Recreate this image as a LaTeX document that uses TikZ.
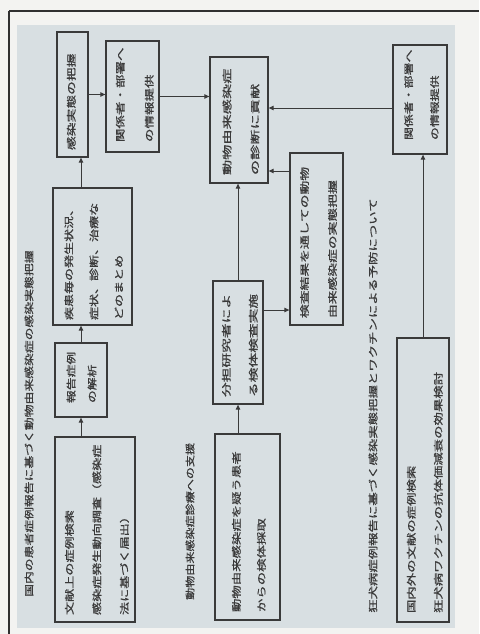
\documentclass[tikz,border=0pt]{standalone}
\usepackage{fontspec}
\usepackage{graphicx}
\newfontfamily\jp[FakeBold=0.8]{Noto Sans CJK JP}
\usetikzlibrary{arrows.meta,calc}
\definecolor{paper}{HTML}{F3F3F1}
\definecolor{panel}{HTML}{D8DFE2}
\definecolor{ink}{HTML}{3A3A3A}
\definecolor{framec}{HTML}{303030}
% #1 length of text slot, #2 stretch, #3 line pitch, #4 lines
\newcommand{\vt}[4]{\rotatebox{90}{\makebox[#1][l]{\jp\fontsize{9.5}{#3}\selectfont\scalebox{#2}[1]{\begin{tabular}{@{}l@{}}#4\end{tabular}}}}}
\newcommand{\vl}[2]{\rotatebox{90}{\jp\fontsize{9.5}{11}\selectfont\scalebox{#1}[1]{#2}}}
\begin{document}
\begin{tikzpicture}[x=1pt,y=-1pt,
  box/.style={draw=ink, line width=1.3pt, fill=panel, inner sep=0pt},
  txt/.style={inner sep=0pt, text=ink},
  ttl/.style={inner sep=0pt, text=ink, anchor=south},
  arr/.style={draw=ink, line width=1pt, -{Triangle[length=5pt,width=4.5pt]}}]
\useasboundingbox (0,0) rectangle (479,634);
\fill[paper] (0,0) rectangle (479,634);
\fill[panel] (17,25) rectangle (455,628);
\draw[framec, line width=1.6pt] (9,11) -- (479,11);
\draw[framec, line width=1.6pt] (9,11) -- (9,634);

% boxes
\node[box, minimum width=80pt, minimum height=185pt] (A) at (95,529.5) {};
\node[txt] (At) at (A) {\vt{171pt}{1.38}{27.5pt}{文献上の症例検索\\感染症発生動向調査（感染症\\法に基づく届出）}};

\node[box, minimum width=52pt, minimum height=74pt] (B) at (81,380) {};
\node[txt] (Bt) at (B) {\vt{46pt}{1.35}{21pt}{報告症例\\の解析}};

\node[box, minimum width=79pt, minimum height=137pt] (C) at (92.5,256.5) {};
\node[txt] (Ct) at (C) {\vt{127pt}{1.37}{25pt}{疾患毎の発生状況、\\症状、診断、治療な\\どのまとめ}};

\node[box, minimum width=31pt, minimum height=125pt] (D) at (72.5,94.5) {};
\node[txt] (Dt) at (D) {\vt{111pt}{1.45}{12pt}{感染実態の把握}};

\node[box, minimum width=53pt, minimum height=111pt] (E) at (132.5,96.5) {};
\node[txt] (Et) at (E) {\vt{91pt}{1.42}{29pt}{関係者・部署へ\\の情報提供}};

\node[box, minimum width=58pt, minimum height=126pt] (F) at (239,120) {};
\node[txt] (Ft) at (F) {\vt{110pt}{1.6}{28pt}{動物由来感染症\\の診断に貢献}};

\node[box, minimum width=50pt, minimum height=123pt] (G) at (238,342.5) {};
\node[txt] (Gt) at (G) {\vt{109pt}{1.55}{27pt}{分担研究者によ\\る検体検査実施}};

\node[box, minimum width=65pt, minimum height=186pt] (H) at (247.5,527) {};
\node[txt] (Ht) at (H) {\vt{170pt}{1.41}{25pt}{動物由来感染症を疑う患者\\からの検体採取}};

\node[box, minimum width=53pt, minimum height=172pt] (I) at (316.5,239) {};
\node[txt] (It) at (I) {\vt{158pt}{1.45}{28pt}{検査結果を通しての動物\\由来感染症の実態把握}};

\node[box, minimum width=54pt, minimum height=109pt] (J) at (420,99.5) {};
\node[txt] (Jt) at (J) {\vt{81pt}{1.36}{26pt}{関係者・部署へ\\の情報提供}};

\node[box, minimum width=52pt, minimum height=284pt] (K) at (423,480) {};
\node[txt] (Kt) at (K) {\vt{266pt}{1.41}{27pt}{国内外の文献の症例検索\\狂犬病ワクチンの抗体価減衰の効果検討}};

% section titles
\node[ttl] (T1) at (29,597) {\vl{1.35}{国内の患者症例報告に基づく動物由来感染症の感染実態把握}};
\node[ttl] (T2) at (190,600) {\vl{1.27}{動物由来感染症診療への支援}};
\node[ttl] (T3) at (373,613) {\vl{1.41}{狂犬病症例報告に基づく感染実態把握とワクチンによる予防について}};

% connectors
\coordinate (gi) at (0,310);
\coordinate (fi) at (0,171);
\coordinate (fj) at (0,108);
\draw[arr] (A.north -| B) -- (B.south);
\draw[arr] (B.north) -- (B.north |- C.south);
\draw[arr] (C.north -| B) -- (D.south -| B);
\draw[arr] (D.east) -- (D.east -| E.west);
\draw[arr] (E.east) -- (E.east -| F.west);
\draw[arr] (H.north -| G) -- (G.south);
\draw[arr] (G.north) -- (G.north |- F.south);
\draw[arr] (G.east |- gi) -- (I.west |- gi);
\draw[arr] (I.west |- fi) -- (F.east |- fi);
\draw[arr] (J.west |- fj) -- (F.east |- fj);
\draw[arr] (K.north) -- (K.north |- J.south);
\end{tikzpicture}
\end{document}
